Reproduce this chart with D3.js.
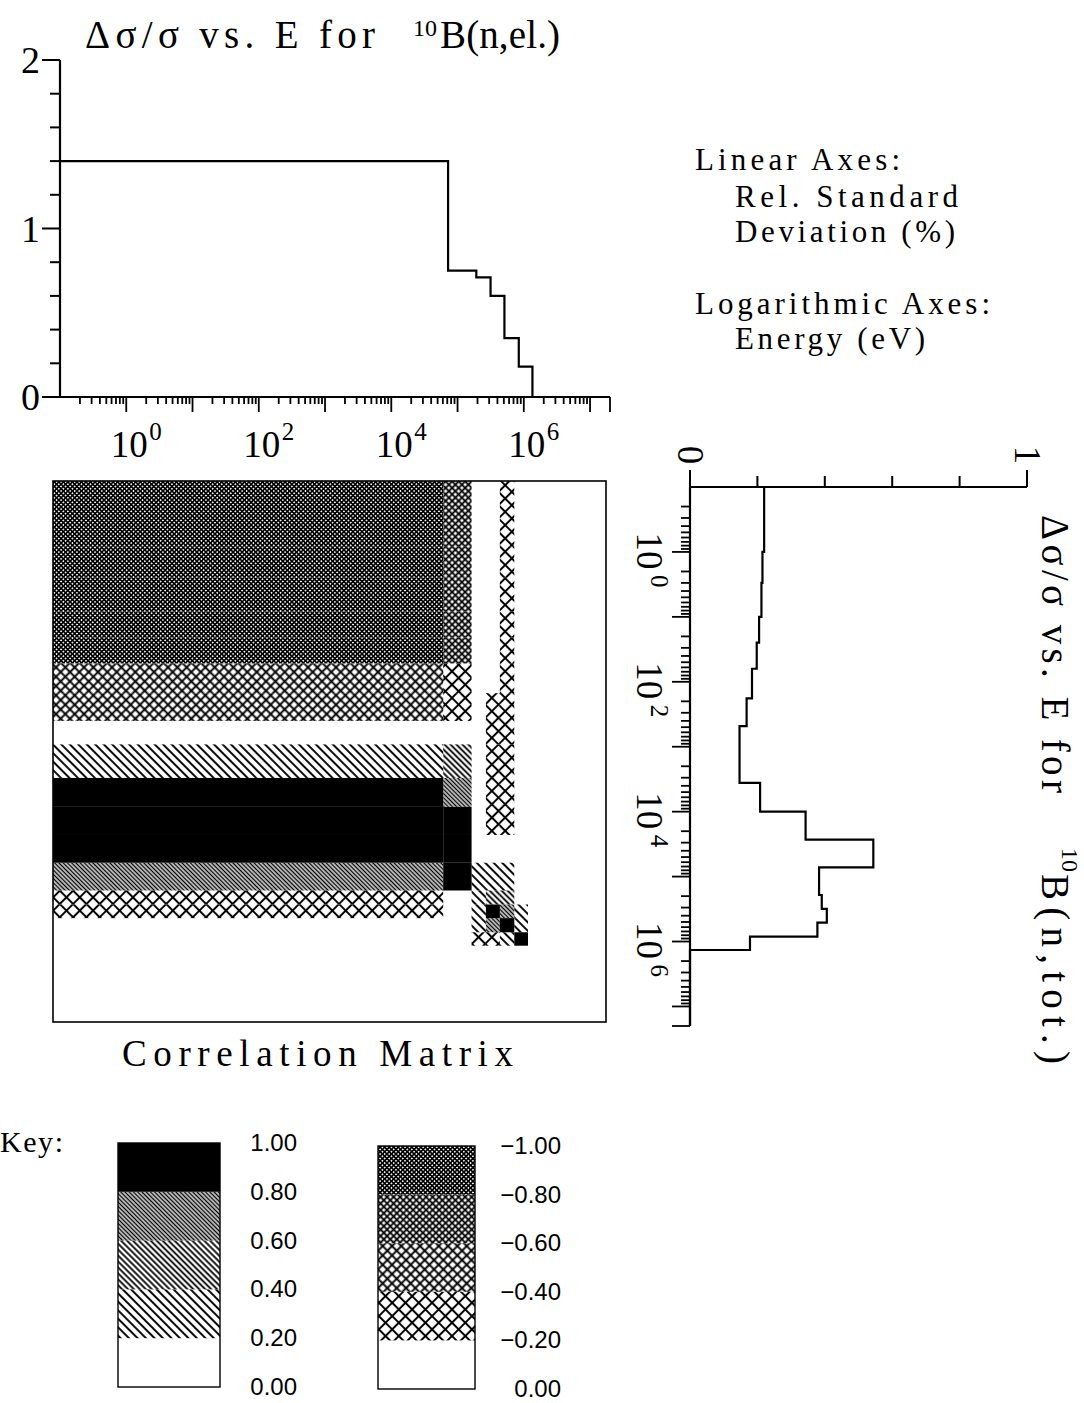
<!DOCTYPE html>
<html><head><meta charset="utf-8">
<script src="https://cdn.jsdelivr.net/npm/d3@7"></script>
<style>body{margin:0;background:#fff} svg{display:block}</style>
</head><body>
<svg id="c" width="1084" height="1403"></svg>
<script>
// ---------- data ----------
// (n,el.) energy group edges (eV) and relative std. deviation
const elEdges = [0.1, 7.2e4, 1.92e5, 3.15e5, 5.1e5, 8.4e5, 1.35e6, 2e7];
const elSigma = [1.40, 0.75, 0.71, 0.60, 0.35, 0.18, 0];
// (n,tot.) energy group edges (eV) and relative std. deviation
const totEdges = [0.1, 1, 3, 10, 25, 63, 180, 480, 1100, 3600, 1e4, 2.7e4, 7.2e4, 1.92e5, 3.15e5, 5.1e5, 8.4e5, 1.35e6, 2e7];
const totSigma = [0.22, 0.215, 0.212, 0.205, 0.198, 0.184, 0.168, 0.147, 0.147, 0.208, 0.343, 0.544, 0.383, 0.391, 0.406, 0.378, 0.178, 0];
// correlation matrix: rows = (n,tot.) groups, columns = (n,el.) groups
const corr = [
  [-0.9, -0.7, 0, 0, -0.3, 0, 0],
  [-0.9, -0.7, 0, 0, -0.3, 0, 0],
  [-0.9, -0.7, 0, 0, -0.3, 0, 0],
  [-0.9, -0.7, 0, 0, -0.3, 0, 0],
  [-0.9, -0.7, 0, 0, -0.3, 0, 0],
  [-0.5, -0.3, 0, 0, -0.3, 0, 0],
  [-0.5, -0.3, 0, -0.3, -0.3, 0, 0],
  [0, 0, 0, -0.3, -0.3, 0, 0],
  [0.3, 0.5, 0, -0.3, -0.3, 0, 0],
  [0.9, 0.7, 0, -0.3, -0.3, 0, 0],
  [0.9, 0.9, 0, -0.3, -0.3, 0, 0],
  [0.9, 0.9, 0, 0, 0, 0, 0],
  [0.7, 0.9, 0.3, 0.3, 0.3, 0, 0],
  [-0.3, 0, 0.3, 0.5, 0.5, 0, 0],
  [-0.3, 0, 0.3, 0.9, 0.7, 0.3, 0],
  [0, 0, 0.3, 0.7, 0.9, 0.3, 0],
  [0, 0, -0.3, -0.3, 0.3, 0.9, 0],
  [0, 0, 0, 0, 0, 0, 0]
];
const sigmaTicksTop = [0, 1, 2];
const sigmaTicksRight = [0, 1];
const decadeLabels = [0, 2, 4, 6];
const keyPos = ["1.00", "0.80", "0.60", "0.40", "0.20", "0.00"];
const keyNeg = ["\u22121.00", "\u22120.80", "\u22120.60", "\u22120.40", "\u22120.20", "0.00"];
const keyPosVals = [1.0, 0.8, 0.6, 0.4, 0.2, 0.0];
const keyNegVals = [-1.0, -0.8, -0.6, -0.4, -0.2, 0.0];

// ---------- setup ----------
const svg = d3.select('#c');
const defs = svg.append('defs');
const SERIF = "'Liberation Serif','DejaVu Serif',serif";
const SANS = "'Liberation Sans','DejaVu Sans',sans-serif";

function makePattern(id, type, s, w) {
  const p = defs.append('pattern').attr('id', id)
    .attr('patternUnits', 'userSpaceOnUse')
    .attr('width', s).attr('height', s)
    .attr('patternTransform', 'rotate(45)');
  p.append('rect').attr('x', 0).attr('y', (s - w) / 2).attr('width', s).attr('height', w).attr('fill', '#000');
  if (type === 'cross') p.append('rect').attr('x', (s - w) / 2).attr('y', 0).attr('width', w).attr('height', s).attr('fill', '#000');
}
makePattern('h1', 'hatch', 6.0, 1.9);
makePattern('h2', 'hatch', 4.2, 1.8);
makePattern('h3', 'hatch', 3.0, 1.6);
makePattern('c1', 'cross', 9.4, 2.0);
makePattern('c2', 'cross', 6.6, 1.9);
makePattern('c3', 'cross', 4.6, 1.8);
makePattern('c4', 'cross', 3.2, 1.65);

function fillFor(v) {
  if (v >= 0.8) return '#000';
  if (v >= 0.6) return 'url(#h3)';
  if (v >= 0.4) return 'url(#h2)';
  if (v >= 0.2) return 'url(#h1)';
  if (v > -0.2) return 'none';
  if (v > -0.4) return 'url(#c1)';
  if (v > -0.6) return 'url(#c2)';
  if (v > -0.8) return 'url(#c3)';
  return 'url(#c4)';
}

function logTicks(lo, hi) {
  const t = [];
  for (let n = -1; n <= 7; n++) for (let k = 1; k <= 9; k++) {
    const v = k * Math.pow(10, n);
    if (v > lo * 1.001 && v < hi * 0.999) t.push({ v, major: k === 1 });
  }
  t.push({ v: hi, major: true });
  return t;
}
const eTicks = logTicks(0.1, 2e7);

// ---------- top chart: (n,el.) ----------
const xTop = d3.scaleLog().domain([0.1, 2e7]).range([60, 610]);
const yTop = d3.scaleLinear().domain([0, 2]).range([397, 60]);
const gT = svg.append('g');
gT.append('line').attr('x1', 60).attr('x2', 60).attr('y1', yTop(0)).attr('y2', yTop(2)).attr('stroke', '#000').attr('stroke-width', 2.2);
d3.range(0, 2.0001, 0.2).forEach(v => {
  const major = Math.abs(v - Math.round(v)) < 1e-6;
  gT.append('line').attr('x1', major ? 42 : 50).attr('x2', 60).attr('y1', yTop(v)).attr('y2', yTop(v)).attr('stroke', '#000').attr('stroke-width', 2);
});
sigmaTicksTop.forEach(v => {
  gT.append('text').attr('x', 40).attr('y', yTop(v) + 13).attr('text-anchor', 'end')
    .attr('font-family', SERIF).attr('font-size', 38).text(v);
});
gT.append('line').attr('x1', 60).attr('x2', 610).attr('y1', 397).attr('y2', 397).attr('stroke', '#000').attr('stroke-width', 2.2);
eTicks.forEach(t => {
  gT.append('line').attr('x1', xTop(t.v)).attr('x2', xTop(t.v)).attr('y1', 397).attr('y2', 397 + (t.major ? 15 : 7))
    .attr('stroke', '#000').attr('stroke-width', 1.8);
});
decadeLabels.forEach(p => {
  const x = xTop(Math.pow(10, p));
  gT.append('text').attr('x', x + 3).attr('y', 457).attr('text-anchor', 'middle')
    .attr('font-family', SERIF).attr('font-size', 37).text('10');
  gT.append('text').attr('x', x + 23).attr('y', 440)
    .attr('font-family', SERIF).attr('font-size', 25).text(p);
});
const topPts = [];
elSigma.forEach((s, i) => { topPts.push([elEdges[i], s]); topPts.push([elEdges[i + 1], s]); });
gT.append('path').attr('d', d3.line().x(d => xTop(d[0])).y(d => yTop(d[1]))(topPts))
  .attr('fill', 'none').attr('stroke', '#000').attr('stroke-width', 2.2);
gT.append('text').attr('x', 85).attr('y', 48).attr('font-family', SERIF).attr('font-size', 39)
  .attr('textLength', 290).attr('lengthAdjust', 'spacing').text('\u0394\u03c3/\u03c3 vs. E for');
gT.append('text').attr('x', 413).attr('y', 36).attr('font-family', SERIF).attr('font-size', 24).text('10');
gT.append('text').attr('x', 440).attr('y', 48).attr('font-family', SERIF).attr('font-size', 39)
  .attr('textLength', 120).attr('lengthAdjust', 'spacing').text('B(n,el.)');

// ---------- right chart: (n,tot.) (rotated) ----------
const yR = d3.scaleLog().domain([0.1, 2e7]).range([487, 1026]);
const xR = d3.scaleLinear().domain([0, 1]).range([690, 1027]);
const gR = svg.append('g');
gR.append('line').attr('x1', xR(0)).attr('x2', xR(1)).attr('y1', 487).attr('y2', 487).attr('stroke', '#000').attr('stroke-width', 2.2);
d3.range(0, 1.0001, 0.2).forEach(v => {
  const major = Math.abs(v - Math.round(v)) < 1e-6;
  gR.append('line').attr('x1', xR(v)).attr('x2', xR(v)).attr('y1', 487).attr('y2', major ? 470 : 476).attr('stroke', '#000').attr('stroke-width', 2);
});
sigmaTicksRight.forEach(v => {
  gR.append('text').attr('transform', `translate(${xR(v) - 12},${455}) rotate(90)`).attr('text-anchor', 'middle')
    .attr('font-family', SERIF).attr('font-size', 37).text(v);
});
gR.append('line').attr('x1', 690).attr('x2', 690).attr('y1', 487).attr('y2', 1026).attr('stroke', '#000').attr('stroke-width', 2.2);
eTicks.forEach(t => {
  gR.append('line').attr('y1', yR(t.v)).attr('y2', yR(t.v)).attr('x1', 690).attr('x2', 690 - (t.major ? 18 : 9))
    .attr('stroke', '#000').attr('stroke-width', 1.8);
});
decadeLabels.forEach(p => {
  const y = yR(Math.pow(10, p));
  gR.append('text').attr('transform', `translate(637,${y - 1}) rotate(90)`).attr('text-anchor', 'middle')
    .attr('font-family', SERIF).attr('font-size', 37).text('10');
  gR.append('text').attr('transform', `translate(651,${y + 23}) rotate(90)`)
    .attr('font-family', SERIF).attr('font-size', 25).text(p);
});
const rPts = [];
totSigma.forEach((s, i) => { rPts.push([s, totEdges[i]]); rPts.push([s, totEdges[i + 1]]); });
gR.append('path').attr('d', d3.line().x(d => xR(d[0])).y(d => yR(d[1]))(rPts))
  .attr('fill', 'none').attr('stroke', '#000').attr('stroke-width', 2.2);
gR.append('text').attr('transform', 'translate(1042,515) rotate(90)').attr('font-family', SERIF).attr('font-size', 39)
  .attr('textLength', 278).attr('lengthAdjust', 'spacing').text('\u0394\u03c3/\u03c3 vs. E for');
gR.append('text').attr('transform', 'translate(1062,848) rotate(90)').attr('font-family', SERIF).attr('font-size', 24).text('10');
gR.append('text').attr('transform', 'translate(1042,874) rotate(90)').attr('font-family', SERIF).attr('font-size', 39)
  .attr('textLength', 190).attr('lengthAdjust', 'spacing').text('B(n,tot.)');

// ---------- legend text block ----------
const info = [
  { t: 'Linear Axes:', x: 695, y: 170, w: 205 },
  { t: 'Rel. Standard', x: 735, y: 207, w: 223 },
  { t: 'Deviation (%)', x: 735, y: 242, w: 220 },
  { t: 'Logarithmic Axes:', x: 695, y: 314, w: 295 },
  { t: 'Energy (eV)', x: 735, y: 349, w: 190 }
];
info.forEach(d => svg.append('text').attr('x', d.x).attr('y', d.y).attr('font-family', SERIF).attr('font-size', 31)
  .attr('textLength', d.w).attr('lengthAdjust', 'spacing').text(d.t));

// ---------- correlation matrix ----------
const xM = d3.scaleLog().domain([0.1, 2e7]).range([53, 606]);
const yM = d3.scaleLog().domain([0.1, 2e7]).range([481, 1022]);
const gM = svg.append('g');
corr.forEach((row, i) => row.forEach((v, j) => {
  const f = fillFor(v);
  if (f === 'none') return;
  gM.append('rect').attr('x', xM(elEdges[j])).attr('y', yM(totEdges[i]))
    .attr('width', xM(elEdges[j + 1]) - xM(elEdges[j])).attr('height', yM(totEdges[i + 1]) - yM(totEdges[i]))
    .attr('fill', f);
}));
gM.append('rect').attr('x', 53).attr('y', 481).attr('width', 553).attr('height', 541)
  .attr('fill', 'none').attr('stroke', '#000').attr('stroke-width', 1.6);
svg.append('text').attr('x', 122).attr('y', 1066).attr('font-family', SERIF).attr('font-size', 37)
  .attr('textLength', 391).attr('lengthAdjust', 'spacing').text('Correlation Matrix');

// ---------- key ----------
svg.append('text').attr('x', 0).attr('y', 1152).attr('font-family', SERIF).attr('font-size', 30)
  .attr('textLength', 63).attr('lengthAdjust', 'spacing').text('Key:');
const kyP = d3.scaleLinear().domain([1, 0]).range([1143, 1387]);
const kyN = d3.scaleLinear().domain([-1, 0]).range([1146, 1389]);
function drawKey(vals, labels, ky, x0, w, lx) {
  for (let i = 0; i < vals.length - 1; i++) {
    const mid = (vals[i] + vals[i + 1]) / 2;
    const f = fillFor(mid);
    if (f !== 'none') svg.append('rect').attr('x', x0).attr('y', ky(vals[i])).attr('width', w)
      .attr('height', ky(vals[i + 1]) - ky(vals[i])).attr('fill', f);
  }
  svg.append('rect').attr('x', x0).attr('y', ky(vals[0])).attr('width', w).attr('height', ky(vals[vals.length - 1]) - ky(vals[0]))
    .attr('fill', 'none').attr('stroke', '#000').attr('stroke-width', 1.4);
  labels.forEach((l, i) => svg.append('text').attr('x', lx).attr('y', ky(vals[i]) + 8).attr('text-anchor', 'end')
    .attr('font-family', SANS).attr('font-size', 24).text(l));
}
drawKey(keyPosVals, keyPos, kyP, 118, 102, 297);
drawKey(keyNegVals, keyNeg, kyN, 378, 97, 561);
</script>
</body></html>
